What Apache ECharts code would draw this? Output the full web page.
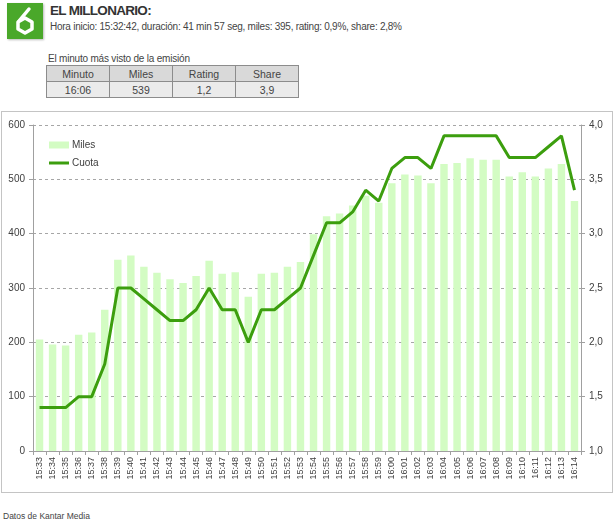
<!DOCTYPE html>
<html>
<head>
<meta charset="utf-8">
<script src="https://cdn.jsdelivr.net/npm/echarts@6/dist/echarts.min.js"></script>
<style>
  html, body { margin: 0; padding: 0; background: #fff; width: 615px; height: 524px; overflow: hidden; font-family: "Liberation Sans", Arial, sans-serif; color: #333; }
  #logo { position: absolute; left: 7px; top: 3px; width: 36px; height: 36px; background: #4aa82a; box-shadow: 1px 1px 2px #bbb; }
  #title { position: absolute; left: 50px; top: 3px; font-weight: bold; font-size: 13.5px; color: #333; letter-spacing: -0.7px; }
  #sub { position: absolute; left: 50px; top: 21px; font-size: 10px; color: #444; letter-spacing: -0.25px; white-space: nowrap; }
  #cap { position: absolute; left: 48px; top: 53px; font-size: 10px; color: #444; letter-spacing: -0.2px; }
  table { position: absolute; left: 46px; top: 65px; border-collapse: collapse; font-size: 10.5px; color: #444; }
  td { width: 62px; height: 15px; text-align: center; border: 1px solid #8c8c8c; padding: 0; }
  tr.h td { background: #d9d9d9; }
  tr.d td { background: #ebebeb; }
  #chartbox { position: absolute; left: 1px; top: 111px; width: 610px; height: 380px; border: 1px solid #c4c4c4; }
  #chart { width: 610px; height: 380px; }
  #foot { position: absolute; left: 3px; top: 511px; font-size: 8.5px; color: #444; }
</style>
</head>
<body>
<div id="logo">
  <svg width="36" height="36" viewBox="0 0 36 36">
    <path d="M22 6 L12 18" stroke="#fff" stroke-width="3.5" fill="none" stroke-linecap="round"/>
    <polygon points="18,15 25,19 25,26 18,30 11,26 11,19" stroke="#fff" stroke-width="3.5" fill="none" stroke-linejoin="round"/>
  </svg>
</div>
<div id="title">EL MILLONARIO:</div>
<div id="sub">Hora inicio: 15:32:42, duración: 41 min 57 seg, miles: 395, rating: 0,9%, share: 2,8%</div>
<div id="cap">El minuto más visto de la emisión</div>
<table>
  <tr class="h"><td>Minuto</td><td>Miles</td><td>Rating</td><td>Share</td></tr>
  <tr class="d"><td>16:06</td><td>539</td><td>1,2</td><td>3,9</td></tr>
</table>
<div id="chartbox"><div id="chart"></div></div>
<div id="foot">Datos de Kantar Media</div>
<script>
const categories = ["15:33","15:34","15:35","15:36","15:37","15:38","15:39","15:40","15:41","15:42","15:43","15:44","15:45","15:46","15:47","15:48","15:49","15:50","15:51","15:52","15:53","15:54","15:55","15:56","15:57","15:58","15:59","16:00","16:01","16:02","16:03","16:04","16:05","16:06","16:07","16:08","16:09","16:10","16:11","16:12","16:13","16:14"];
const miles = [205,196,194,214,218,260,352,360,339,328,316,309,322,350,326,329,284,326,328,339,348,399,432,437,452,470,457,493,509,507,493,528,530,539,536,536,505,513,505,520,528,460];
const cuota = [1.4,1.4,1.4,1.5,1.5,1.8,2.5,2.5,2.4,2.3,2.2,2.2,2.3,2.5,2.3,2.3,2.0,2.3,2.3,2.4,2.5,2.8,3.1,3.1,3.2,3.4,3.3,3.6,3.7,3.7,3.6,3.9,3.9,3.9,3.9,3.9,3.7,3.7,3.7,3.8,3.9,3.4];
const leftTicks = [0, 600, 100];
const rightTicks = [1.0, 4.0, 0.5];

const chart = echarts.init(document.getElementById('chart'), null, { renderer: 'canvas' });
const labelColor = '#404040';
chart.setOption({
  animation: false,
  textStyle: { fontFamily: 'Liberation Sans, Arial, sans-serif' },
  grid: { left: 31, right: 31, top: 13, bottom: 41, containLabel: false },
  legend: {
    orient: 'vertical', left: 42, top: 23, itemWidth: 20, itemHeight: 7, itemGap: 8,
    textStyle: { fontSize: 10, color: labelColor, padding: [0, 0, 0, -2] },
    data: [{ name: 'Miles', icon: 'rect' }, { name: 'Cuota', icon: 'path://M0,0H20V3H0Z' }]
  },
  xAxis: {
    type: 'category', data: categories,
    axisLine: { lineStyle: { color: '#a0a0a0' } },
    axisTick: { show: true, alignWithLabel: false, lineStyle: { color: '#a0a0a0' }, length: 4 },
    axisLabel: { rotate: 90, fontSize: 9, color: labelColor, interval: 0, margin: 6 }
  },
  yAxis: [
    {
      type: 'value', min: leftTicks[0], max: leftTicks[1], interval: leftTicks[2],
      axisLine: { show: true, lineStyle: { color: '#a0a0a0' } },
      axisTick: { show: true, inside: false, length: 4, lineStyle: { color: '#a0a0a0' } },
      axisLabel: { fontSize: 10, color: labelColor, margin: 8 },
      splitLine: { show: true, lineStyle: { color: '#a6a6a6', type: [3, 3] } }
    },
    {
      type: 'value', min: rightTicks[0], max: rightTicks[1], interval: rightTicks[2],
      position: 'right',
      axisLine: { show: true, lineStyle: { color: '#a0a0a0' } },
      axisTick: { show: true, length: 4, lineStyle: { color: '#a0a0a0' } },
      axisLabel: { fontSize: 10, color: labelColor, margin: 8, formatter: v => v.toFixed(1).replace('.', ',') },
      splitLine: { show: false }
    }
  ],
  series: [
    { name: 'Miles', type: 'bar', data: miles, barWidth: '57%', itemStyle: { color: '#d3fcc3' } },
    { name: 'Cuota', type: 'line', yAxisIndex: 1, data: cuota, symbol: 'none', lineStyle: { color: '#3c9e0e', width: 3 }, itemStyle: { color: '#3c9e0e' } }
  ]
});
</script>
</body>
</html>
